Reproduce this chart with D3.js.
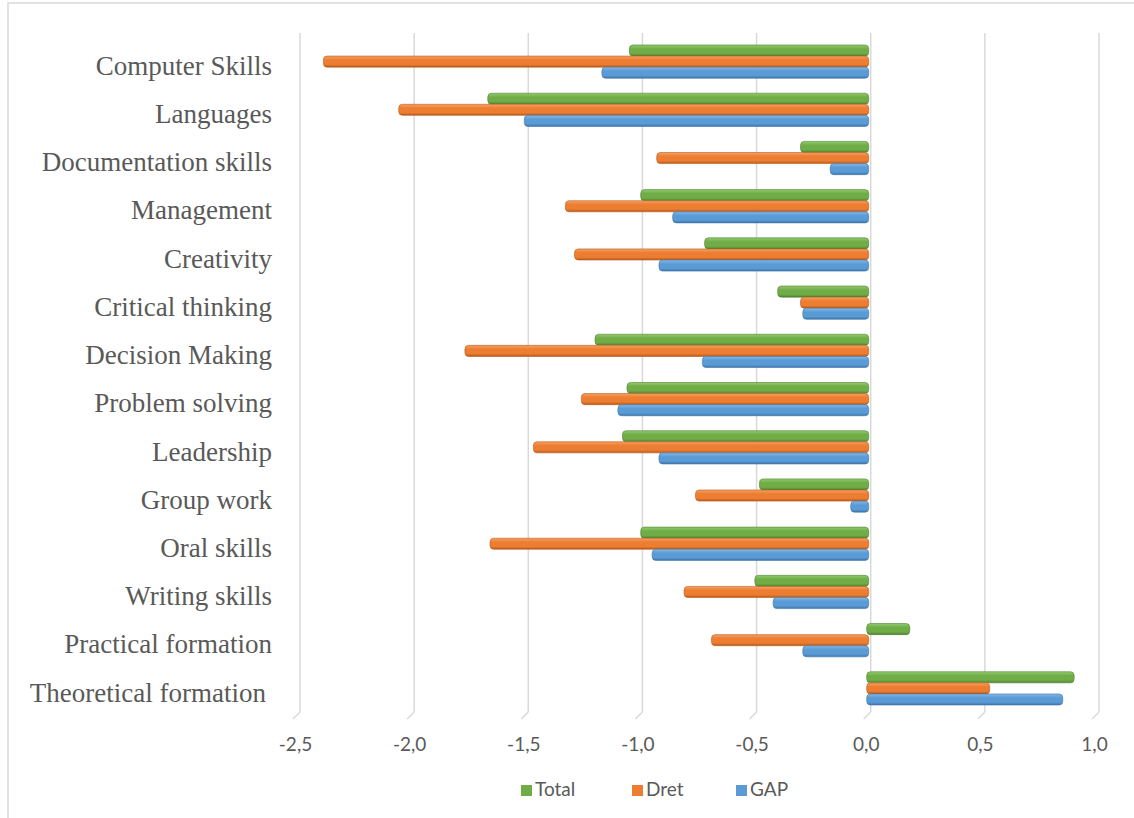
<!DOCTYPE html>
<html>
<head>
<meta charset="utf-8">
<script src="https://cdn.jsdelivr.net/npm/d3@7/dist/d3.min.js"></script>
<style>
html,body{margin:0;padding:0;background:#fff;}
svg{display:block;}
</style>
</head>
<body>
<svg id="chart" width="1134" height="818"></svg>
<script>
const categories = ["Computer Skills","Languages","Documentation skills","Management","Creativity","Critical thinking","Decision Making","Problem solving","Leadership","Group work","Oral skills","Writing skills","Practical formation","Theoretical formation"];
const seriesNames = ["Total","Dret","GAP"];
const totalValues = [-1.04,-1.66,-0.29,-0.99,-0.71,-0.39,-1.19,-1.05,-1.07,-0.47,-0.99,-0.49,0.18,0.90];
const dretValues  = [-2.38,-2.05,-0.92,-1.32,-1.28,-0.29,-1.76,-1.25,-1.46,-0.75,-1.65,-0.80,-0.68,0.53];
const gapValues   = [-1.16,-1.50,-0.16,-0.85,-0.91,-0.28,-0.72,-1.09,-0.91,-0.07,-0.94,-0.41,-0.28,0.85];
const tickValues  = [-2.5,-2.0,-1.5,-1.0,-0.5,0.0,0.5,1.0];
const tickLabels  = ["-2,5","-2,0","-1,5","-1,0","-0,5","0,0","0,5","1,0"];

const colors = {Total:["#92cc6e","#70ad47","#4f8231"], Dret:["#f7a064","#ed7d31","#b65a1c"], GAP:["#86b8e6","#5b9bd5","#3d75aa"]};
const valuesBySeries = {Total: totalValues, Dret: dretValues, GAP: gapValues};

const svg = d3.select("#chart");
const defs = svg.append("defs");
seriesNames.forEach(s => {
  const g = defs.append("linearGradient").attr("id","grad-"+s).attr("x1",0).attr("y1",0).attr("x2",0).attr("y2",1);
  g.append("stop").attr("offset","0%").attr("stop-color",colors[s][0]);
  g.append("stop").attr("offset","35%").attr("stop-color",colors[s][1]);
  g.append("stop").attr("offset","75%").attr("stop-color",colors[s][1]);
  g.append("stop").attr("offset","100%").attr("stop-color",colors[s][2]);
});

svg.append("rect").attr("x",8).attr("y",3).attr("width",1140).attr("height",830)
  .attr("fill","none").attr("stroke","#d9d9d9").attr("stroke-width",1.5);

const x = d3.scaleLinear().domain([-2.5,1.0]).range([300,1099]);
const y = d3.scaleBand().domain(categories).range([37.5,712.5]).paddingInner(0.31).paddingOuter(0.155);
const ySub = d3.scaleBand().domain(seriesNames).range([0,y.bandwidth()]);

const plotTop = 33, plotBottom = 712;
const grid = svg.append("g");
tickValues.forEach(v => {
  grid.append("line").attr("x1",x(v)).attr("x2",x(v)).attr("y1",plotTop).attr("y2",plotBottom)
    .attr("stroke","#d9d9d9").attr("stroke-width",1.5);
  grid.append("line").attr("x1",x(v)).attr("x2",x(v)-7).attr("y1",plotBottom).attr("y2",plotBottom+7)
    .attr("stroke","#d9d9d9").attr("stroke-width",1.5);
});

const xAxis = d3.axisBottom(x).tickValues(tickValues).tickFormat((d,i)=>tickLabels[i]).tickSize(0).tickPadding(0);
const ax = svg.append("g").attr("transform","translate(-5,"+(plotBottom+25)+")").call(xAxis);
ax.select(".domain").remove();
ax.selectAll("text").attr("font-family","Lato, 'Open Sans', sans-serif").attr("font-size","19px").attr("fill","#595959").attr("dy","0.71em");

const labelG = svg.append("g");
categories.forEach((c,i) => {
  labelG.append("text")
    .attr("x", c === "Theoretical formation" ? 266 : 272)
    .attr("y", y(c) + y.bandwidth()/2 + 7)
    .attr("text-anchor","end")
    .attr("dominant-baseline","middle")
    .attr("font-family","'Liberation Serif','Times New Roman',serif")
    .attr("font-size","27px")
    .attr("fill","#595959")
    .text(c);
});

const off = -3;
const barsG = svg.append("g");
seriesNames.forEach(s => {
  const vals = valuesBySeries[s];
  barsG.selectAll(null).data(categories).enter().append("rect")
    .attr("x", (c,i)=> Math.min(x(0), x(vals[i])) + off - 1)
    .attr("y", c => y(c) + ySub(s))
    .attr("width", (c,i)=> Math.abs(x(vals[i]) - x(0)) + 2)
    .attr("height", ySub.bandwidth())
    .attr("rx", 3.5).attr("ry", 4)
    .attr("fill", "url(#grad-"+s+")")
    .attr("stroke", colors[s][2]).attr("stroke-width",0.6);
});

const legend = svg.append("g");
const legendItems = [{s:"Total",x:521},{s:"Dret",x:632},{s:"GAP",x:736}];
legendItems.forEach(it => {
  legend.append("rect").attr("x",it.x).attr("y",785).attr("width",11).attr("height",11).attr("fill",colors[it.s][1]);
  legend.append("text").attr("x",it.x+14).attr("y",791).attr("dominant-baseline","middle")
    .attr("font-family","Lato, 'Open Sans', sans-serif").attr("font-size","19px").attr("fill","#595959").text(it.s);
});
</script>
</body>
</html>
